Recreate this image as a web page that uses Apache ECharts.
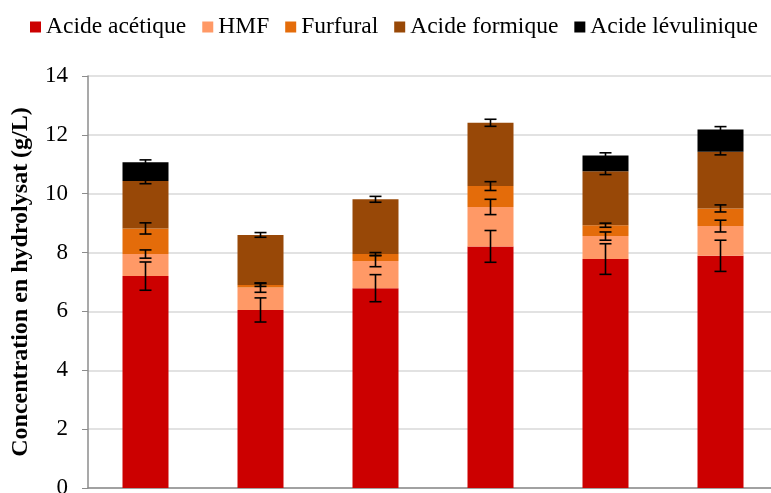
<!DOCTYPE html>
<html>
<head>
<meta charset="utf-8">
<script src="https://cdn.jsdelivr.net/npm/echarts@6/dist/echarts.min.js"></script>
<style>html,body{margin:0;padding:0;background:#fff}#c{width:771px;height:493px}</style>
</head>
<body>
<div id="c"></div>
<script>
const categories = ['1', '2', '3', '4', '5', '6'];
const seriesNames = ['Acide acétique', 'HMF', 'Furfural', 'Acide formique', 'Acide lévulinique'];
const acetique = [7.20, 6.05, 6.79, 8.21, 7.78, 7.89];
const hmf = [0.75, 0.76, 0.92, 1.34, 0.78, 1.01];
const furfural = [0.87, 0.09, 0.24, 0.71, 0.37, 0.60];
const formique = [1.61, 1.70, 1.86, 2.15, 1.83, 1.93];
const levulinique = [0.64, 0, 0, 0, 0.54, 0.75];
const errAcetique = [0.48, 0.41, 0.46, 0.54, 0.52, 0.53];
const errHmf = [0.14, 0.16, 0.19, 0.26, 0.14, 0.20];
const errFurfural = [0.19, 0.05, 0.05, 0.15, 0.07, 0.12];
const errFormique = [0.09, 0.08, 0.10, 0.12, 0.11, 0.11];
const errLevulinique = [0.08, 0, 0, 0, 0.09, 0.10];
const yTicks = [0, 2, 4, 6, 8, 10, 12, 14];

const colors = ['#CC0000', '#FF9966', '#E46C0A', '#984807', '#000000'];
const values = [acetique, hmf, furfural, formique, levulinique];
const errs = [errAcetique, errHmf, errFurfural, errFormique, errLevulinique];

// error bar data: [category index, cumulative top, error]
const errData = [];
for (let i = 0; i < categories.length; i++) {
  let cum = 0;
  for (let s = 0; s < values.length; s++) {
    if (values[s][i] > 0) {
      cum += values[s][i];
      if (errs[s][i] > 0) errData.push([i, cum, errs[s][i]]);
    }
  }
}

const font = 'Liberation Serif';
const chart = echarts.init(document.getElementById('c'), null, {renderer: 'canvas'});
const series = seriesNames.map((n, k) => ({
  name: n,
  type: 'bar',
  stack: 'total',
  barWidth: '40%',
  itemStyle: {color: colors[k]},
  data: values[k]
}));
series.push({
  type: 'custom',
  name: 'err',
  z: 10,
  encode: {x: 0, y: [1]},
  data: errData,
  renderItem: function (params, api) {
    const x = api.value(0), c = api.value(1), e = api.value(2);
    const top = api.coord([x, c + e]);
    const bot = api.coord([x, c - e]);
    const hw = 6;
    const st = {stroke: '#000', lineWidth: 1.6};
    return {
      type: 'group',
      children: [
        {type: 'line', shape: {x1: top[0], y1: top[1], x2: bot[0], y2: bot[1]}, style: st},
        {type: 'line', shape: {x1: top[0] - hw, y1: top[1], x2: top[0] + hw, y2: top[1]}, style: st},
        {type: 'line', shape: {x1: bot[0] - hw, y1: bot[1], x2: bot[0] + hw, y2: bot[1]}, style: st}
      ]
    };
  }
});

chart.setOption({
  animation: false,
  legend: {
    data: seriesNames,
    left: 30,
    top: 15,
    width: 741,
    padding: 0,
    icon: 'rect',
    itemWidth: 11,
    itemHeight: 11,
    itemGap: 16,
    textStyle: {fontFamily: font, fontSize: 23.5, color: '#000'}
  },
  grid: {left: 88, top: 76, width: 690, bottom: 5, containLabel: false, outerBoundsMode: 'none'},
  xAxis: {
    type: 'category',
    data: categories,
    axisLine: {lineStyle: {color: '#8c8c8c', width: 1.5}},
    axisTick: {show: false},
    axisLabel: {show: false}
  },
  yAxis: {
    type: 'value',
    min: 0,
    max: 14,
    interval: 2,
    name: 'Concentration en hydrolysat (g/L)',
    nameLocation: 'middle',
    nameGap: 55,
    nameTextStyle: {fontFamily: font, fontSize: 24, fontWeight: 'bold', color: '#000'},
    axisLine: {show: true, lineStyle: {color: '#8c8c8c', width: 1.5}},
    axisTick: {show: true, length: 6, lineStyle: {color: '#8c8c8c'}},
    axisLabel: {
      fontFamily: font, fontSize: 23, color: '#000', margin: 20,
      formatter: v => (yTicks.includes(v) ? String(v) : '')
    },
    splitLine: {lineStyle: {color: '#d9d9d9', width: 1.5}}
  },
  series: series
});
</script>
</body>
</html>
